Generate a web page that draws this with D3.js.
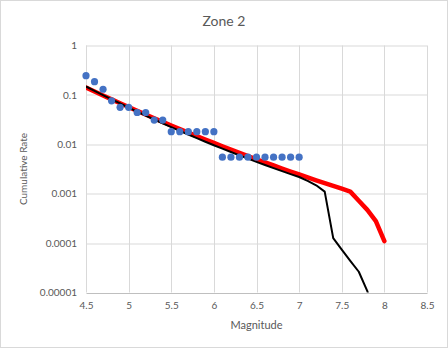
<!DOCTYPE html>
<html>
<head>
<meta charset="utf-8">
<script src="https://cdn.jsdelivr.net/npm/d3@7"></script>
<style>
  body { margin: 0; background: #fff; }
  text { font-family: Lato, "Open Sans", sans-serif; fill: #595959; }
</style>
</head>
<body>
<svg id="chart" width="448" height="348"></svg>
<script>
// observed data (dots)
const obsMag = [4.5, 4.6, 4.7, 4.8, 4.9, 5.0, 5.1, 5.2, 5.3, 5.4, 5.5, 5.6, 5.7, 5.8, 5.9, 6.0,
    6.1, 6.2, 6.3, 6.4, 6.5, 6.6, 6.7, 6.8, 6.9, 7.0];
const obsRate = [0.245, 0.185, 0.13, 0.076, 0.056, 0.056, 0.044, 0.044, 0.031, 0.031,
    0.018, 0.018, 0.018, 0.018, 0.018, 0.018,
    0.0055, 0.0055, 0.0055, 0.0055, 0.0055, 0.0055, 0.0055, 0.0055, 0.0055, 0.0055];

// model curves
const modelMag = [4.5, 4.6, 4.7, 4.8, 4.9, 5.0, 5.1, 5.2, 5.3, 5.4, 5.5, 5.6, 5.7, 5.8, 5.9, 6.0,
    6.1, 6.2, 6.3, 6.4, 6.5, 6.6, 6.7, 6.8, 6.9, 7.0, 7.1, 7.2, 7.3, 7.4, 7.5, 7.6, 7.7, 7.8, 7.9, 8.0];
const redRate = [0.1413, 0.1172, 0.0975, 0.0813, 0.0679, 0.0568, 0.0476, 0.0400, 0.0337, 0.0284,
    0.0240, 0.0203, 0.01726, 0.01467, 0.0125, 0.01067, 0.00913, 0.00782, 0.00672, 0.00578,
    0.00498, 0.00431, 0.00373, 0.00323, 0.00281, 0.00245, 0.00214, 0.00187, 0.00164, 0.00144,
    0.00126, 0.00110, 0.00072, 0.00047, 0.00028, 0.00011];
const blackRate = [0.1479, 0.1209, 0.0991, 0.0814, 0.0671, 0.0555, 0.0460, 0.0382, 0.0318, 0.0266,
    0.0223, 0.0187, 0.01576, 0.01332, 0.01128, 0.00958, 0.00816, 0.00697, 0.00597, 0.00513,
    0.00441, 0.00381, 0.00330, 0.00287, 0.00249, 0.00218, 0.00182, 0.00148, 0.00110, 0.000126,
    0.0000741, 0.0000437, 0.0000263, 0.0000107, 0.0000025];

const xTicks = [4.5, 5, 5.5, 6, 6.5, 7, 7.5, 8, 8.5];
const yTicks = [1, 0.1, 0.01, 0.001, 0.0001, 0.00001];
const yTickLabels = ["1", "0.1", "0.01", "0.001", "0.0001", "0.00001"];

const svg = d3.select("#chart");
const W = +svg.attr("width"), H = +svg.attr("height");

svg.append("rect")
    .attr("x", 0.5).attr("y", 0.5)
    .attr("width", W - 1).attr("height", H - 1)
    .attr("fill", "#fff").attr("stroke", "#d9d9d9");

const margin = {top: 45.5, right: 21, bottom: 55.5, left: 86};
const width = W - margin.left - margin.right;
const height = H - margin.top - margin.bottom;
const g = svg.append("g").attr("transform", `translate(${margin.left},${margin.top})`);

const x = d3.scaleLinear().domain([4.5, 8.5]).range([0, width]);
const y = d3.scaleLog().domain([0.00001, 1]).range([height, 0]);

// gridlines
g.append("g").selectAll("line").data(yTicks.slice(0, -1)).enter().append("line")
    .attr("x1", 0).attr("x2", width)
    .attr("y1", d => Math.round(y(d)) + 0.5).attr("y2", d => Math.round(y(d)) + 0.5)
    .attr("stroke", "#d9d9d9");
g.append("g").selectAll("line").data(xTicks).enter().append("line")
    .attr("x1", d => Math.round(x(d)) + 0.5).attr("x2", d => Math.round(x(d)) + 0.5)
    .attr("y1", 0).attr("y2", height)
    .attr("stroke", "#d9d9d9");

// x axis
const xAxis = g.append("g")
    .attr("transform", `translate(0,${Math.round(height) + 0.5})`)
    .call(d3.axisBottom(x).tickValues(xTicks).tickSize(0).tickPadding(9).tickFormat(d3.format("")));
xAxis.select(".domain").attr("stroke", "#bfbfbf");
xAxis.selectAll("text").attr("font-size", 10).style("fill", "#595959");

// y axis
const yAxis = g.append("g")
    .call(d3.axisLeft(y).tickValues(yTicks).tickSize(0).tickPadding(9)
        .tickFormat((d, i) => yTickLabels[i]));
yAxis.select(".domain").remove();
yAxis.selectAll("text").attr("font-size", 10).style("fill", "#595959");

g.append("clipPath").attr("id", "clip")
    .append("rect").attr("width", width).attr("height", height);

const line = d3.line().x(d => x(d[0])).y(d => y(d[1]));

g.append("path")
    .datum(modelMag.map((m, i) => [m, redRate[i]]))
    .attr("clip-path", "url(#clip)")
    .attr("fill", "none").attr("stroke", "#ff0000")
    .attr("stroke-width", 4.5).attr("stroke-linejoin", "round").attr("stroke-linecap", "round")
    .attr("d", line);

g.append("path")
    .datum(blackRate.map((r, i) => [modelMag[i], r]))
    .attr("clip-path", "url(#clip)")
    .attr("fill", "none").attr("stroke", "#000")
    .attr("stroke-width", 2).attr("stroke-linejoin", "round")
    .attr("d", line);

g.selectAll(".dot")
    .data(obsMag.map((m, i) => [m, obsRate[i]]))
    .enter().append("circle")
    .attr("class", "dot")
    .attr("cx", d => x(d[0]))
    .attr("cy", d => y(d[1]))
    .attr("r", 3.6)
    .attr("fill", "#4472c4");

// titles
svg.append("text")
    .attr("x", 224).attr("y", 26)
    .attr("text-anchor", "middle")
    .attr("font-size", 14)
    .text("Zone 2");

svg.append("text")
    .attr("x", margin.left + width / 2).attr("y", 329)
    .attr("text-anchor", "middle")
    .attr("font-size", 11)
    .text("Magnitude");

svg.append("text")
    .attr("transform", `translate(27,${margin.top + height / 2}) rotate(-90)`)
    .attr("text-anchor", "middle")
    .attr("font-size", 10)
    .text("Cumulative Rate");
</script>
</body>
</html>
